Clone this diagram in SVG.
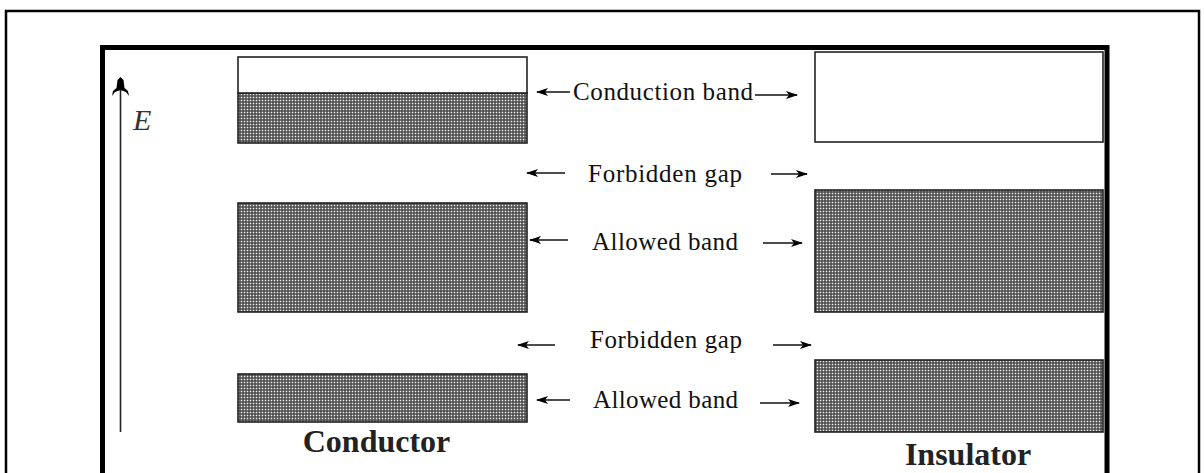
<svg xmlns="http://www.w3.org/2000/svg" width="1204" height="473" viewBox="0 0 1204 473">
  <style>
    .frame { fill: none; stroke: #000; }
    .band { stroke: #222; stroke-width: 1.6; }
    .empty { fill: #fff; }
    .filled { fill: url(#dots); }
    .lbl { font-family: "Liberation Serif", "Times New Roman", serif; font-size: 25px; fill: #111; }
    .name { font-family: "Liberation Serif", "Times New Roman", serif; font-size: 32px; font-weight: bold; fill: #222; }
    .ax { font-family: "Liberation Serif", "Times New Roman", serif; font-size: 30px; font-style: italic; fill: #333; }
    .arr { stroke: #111; stroke-width: 1.5; fill: none; }
  </style>
  <defs>
    <!-- halftone fill used for occupied / allowed bands -->
    <pattern id="dots" width="3" height="3" patternUnits="userSpaceOnUse">
      <rect width="3" height="3" fill="#444"/>
      <rect x="0.7" y="0.7" width="1.6" height="1.6" fill="#eee"/>
    </pattern>
    <marker id="head" viewBox="0 0 12 9" refX="11" refY="4.5" markerWidth="12" markerHeight="9" markerUnits="userSpaceOnUse" orient="auto-start-reverse">
      <path d="M0,0.5 L12,4.5 L0,8.5 L3,4.5 Z" fill="#000"/>
    </marker>
  </defs>

  <!-- page borders -->
  <rect class="frame" x="6" y="11" width="1193" height="500" stroke-width="2.5"/>
  <rect class="frame" x="102.5" y="47.5" width="1004.5" height="500" stroke-width="5"/>

  <!-- energy axis -->
  <g id="axis">
    <line x1="120.5" y1="84" x2="120.5" y2="432" stroke="#222" stroke-width="1.6"/>
    <path d="M120.5,77 L123.5,80 L124.5,88 L128,91 L129,96 L126,92 L120.5,90 L115,92 L112,96 L113,91 L116.5,88 L117.5,80 Z" fill="#000"/>
    <text class="ax" x="133" y="130">E</text>
  </g>

  <!-- conductor bands -->
  <g id="conductor">
    <rect class="band filled" x="238" y="93" width="289" height="50"/>
    <rect class="band empty" x="238" y="57" width="289" height="36"/>
    <rect class="band filled" x="238" y="203" width="289" height="109"/>
    <rect class="band filled" x="238" y="374" width="289" height="48"/>
    <text class="name" x="376.5" y="452" text-anchor="middle">Conductor</text>
  </g>

  <!-- insulator bands -->
  <g id="insulator">
    <rect class="band empty" x="815" y="52" width="288" height="90"/>
    <rect class="band filled" x="815" y="190" width="288" height="122"/>
    <rect class="band filled" x="815" y="360" width="288" height="72"/>
    <text class="name" x="968" y="465" text-anchor="middle">Insulator</text>
  </g>

  <!-- band labels -->
  <g id="labels">
    <text class="lbl" x="573" y="100" textLength="180" lengthAdjust="spacing">Conduction band</text>
    <text class="lbl" x="588" y="182" textLength="154" lengthAdjust="spacing">Forbidden gap</text>
    <text class="lbl" x="592" y="250" textLength="146" lengthAdjust="spacing">Allowed band</text>
    <text class="lbl" x="590" y="348" textLength="152" lengthAdjust="spacing">Forbidden gap</text>
    <text class="lbl" x="593" y="408" textLength="145" lengthAdjust="spacing">Allowed band</text>
  </g>

  <!-- pointer arrows -->
  <g id="connectors">
    <line class="arr" x1="570" y1="92" x2="537" y2="92" marker-end="url(#head)"/>
    <line class="arr" x1="755" y1="95" x2="797" y2="95" marker-end="url(#head)"/>
    <line class="arr" x1="565" y1="173" x2="527" y2="173" marker-end="url(#head)"/>
    <line class="arr" x1="771" y1="174" x2="807" y2="174" marker-end="url(#head)"/>
    <line class="arr" x1="568" y1="240" x2="530" y2="240" marker-end="url(#head)"/>
    <line class="arr" x1="763" y1="243" x2="802" y2="243" marker-end="url(#head)"/>
    <line class="arr" x1="555" y1="345" x2="518" y2="345" stroke-width="1.2" marker-end="url(#head)"/>
    <line class="arr" x1="773" y1="345" x2="811" y2="345" marker-end="url(#head)"/>
    <line class="arr" x1="570" y1="400" x2="537" y2="400" stroke-width="1.2" marker-end="url(#head)"/>
    <line class="arr" x1="760" y1="403" x2="799" y2="403" marker-end="url(#head)"/>
  </g>
</svg>
